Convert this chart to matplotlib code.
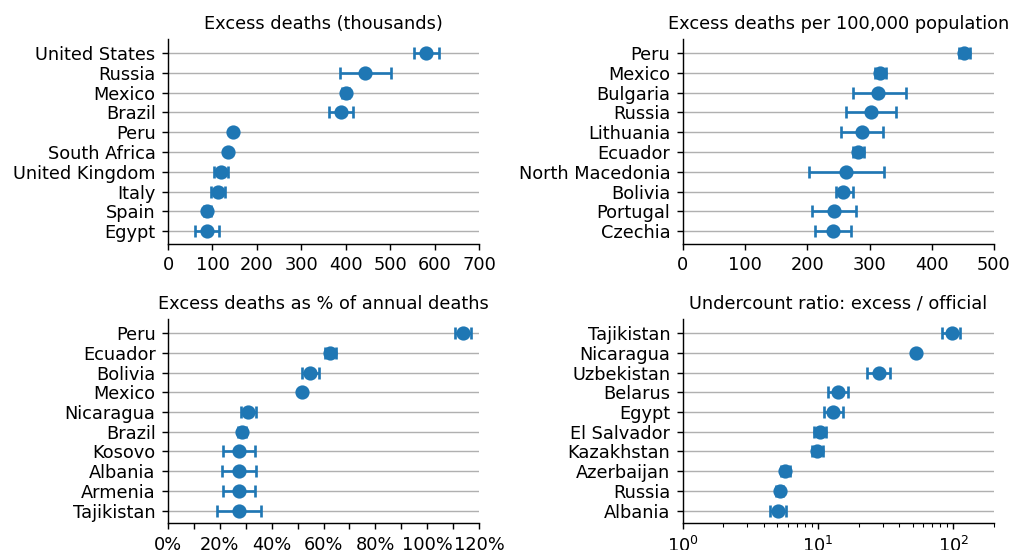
import matplotlib
matplotlib.use("Agg")
import matplotlib.pyplot as plt
from matplotlib.ticker import MultipleLocator, PercentFormatter, LogLocator
import numpy as np

# Panel 1: excess deaths (thousands)
countries_abs = ["United States", "Russia", "Mexico", "Brazil", "Peru", "South Africa",
                 "United Kingdom", "Italy", "Spain", "Egypt"]
deaths_abs = [581, 443, 400, 389, 146, 134, 120, 112, 88, 88]
deaths_abs_low = [554, 387, 392, 362, 144, 132, 104, 96, 81, 61]
deaths_abs_high = [610, 502, 408, 416, 148, 136, 136, 128, 96, 115]

# Panel 2: excess deaths per 100,000 population
countries_per = ["Peru", "Mexico", "Bulgaria", "Russia", "Lithuania", "Ecuador",
                 "North Macedonia", "Bolivia", "Portugal", "Czechia"]
deaths_per = [452, 317, 314, 302, 288, 282, 263, 258, 243, 241]
deaths_per_low = [443, 309, 273, 263, 255, 273, 203, 246, 208, 213]
deaths_per_high = [462, 326, 358, 342, 322, 291, 324, 273, 278, 270]

# Panel 3: excess deaths as % of annual deaths
countries_pct = ["Peru", "Ecuador", "Bolivia", "Mexico", "Nicaragua", "Brazil",
                 "Kosovo", "Albania", "Armenia", "Tajikistan"]
deaths_pct = [113.8, 62.4, 54.9, 51.8, 30.9, 28.6, 27.4, 27.4, 27.4, 27.4]
deaths_pct_low = [110.9, 60.4, 51.8, 51.5, 28.0, 27.0, 21.2, 21.0, 21.2, 19.0]
deaths_pct_high = [117.0, 64.7, 58.3, 52.1, 33.8, 30.2, 33.7, 33.8, 33.4, 35.8]

# Panel 4: undercount ratio
countries_ratio = ["Tajikistan", "Nicaragua", "Uzbekistan", "Belarus", "Egypt",
                   "El Salvador", "Kazakhstan", "Azerbaijan", "Russia", "Albania"]
ratio = [98, 53, 28.4, 14.0, 13.0, 10.4, 9.9, 5.7, 5.2, 5.1]
ratio_low = [83, 52, 23.0, 11.8, 11.0, 9.4, 9.1, 5.35, 4.9, 4.45]
ratio_high = [113, 54, 33.8, 16.7, 15.2, 11.5, 10.8, 6.2, 5.5, 5.8]

titles = ["Excess deaths (thousands)", "Excess deaths per 100,000 population",
          "Excess deaths as % of annual deaths", "Undercount ratio: excess / official"]

plt.rcParams["font.family"] = "DejaVu Sans"
plt.rcParams["font.size"] = 10

COLOR = "#1f77b4"
DPI = 128


def draw_panel(ax, names, vals, low, high, title):
    y = np.arange(len(names))
    vals = np.array(vals, dtype=float)
    err = [vals - np.array(low, dtype=float), np.array(high, dtype=float) - vals]
    ax.errorbar(vals, y, xerr=err, fmt="o", color=COLOR, ms=7, elinewidth=1.5,
                capsize=3.5, capthick=1.5, zorder=3)
    ax.set_yticks(y)
    ax.set_yticklabels(names)
    ax.set_ylim(9.65, -0.7)
    ax.grid(axis="y", color="#b0b0b0", linewidth=0.8, zorder=0)
    ax.set_axisbelow(True)
    ax.spines["top"].set_visible(False)
    ax.spines["right"].set_visible(False)
    ax.set_title(title, fontsize=10)


fig = plt.figure(figsize=(1011 / DPI, 550 / DPI), dpi=DPI)
ax1 = fig.add_axes([0.1662, 0.5564, 0.3076, 0.3721])
ax2 = fig.add_axes([0.6753, 0.5564, 0.3079, 0.3721])
ax3 = fig.add_axes([0.1662, 0.0485, 0.3076, 0.3710])
ax4 = fig.add_axes([0.6753, 0.0485, 0.3079, 0.3710])

draw_panel(ax1, countries_abs, deaths_abs, deaths_abs_low, deaths_abs_high, titles[0])
ax1.set_xlim(0, 700)
ax1.xaxis.set_major_locator(MultipleLocator(100))

draw_panel(ax2, countries_per, deaths_per, deaths_per_low, deaths_per_high, titles[1])
ax2.set_xlim(0, 500)
ax2.xaxis.set_major_locator(MultipleLocator(100))

draw_panel(ax3, countries_pct, deaths_pct, deaths_pct_low, deaths_pct_high, titles[2])
ax3.set_xlim(0, 120)
ax3.xaxis.set_major_locator(MultipleLocator(20))
ax3.xaxis.set_minor_locator(MultipleLocator(10))
ax3.xaxis.set_major_formatter(PercentFormatter(decimals=0))
ax3.tick_params(axis="x", which="minor", length=3.5, width=0.8)

draw_panel(ax4, countries_ratio, ratio, ratio_low, ratio_high, titles[3])
ax4.set_xscale("log")
ax4.set_xlim(1, 200)
ax4.xaxis.set_major_locator(LogLocator(base=10))

fig.savefig("out.png", dpi=DPI)
